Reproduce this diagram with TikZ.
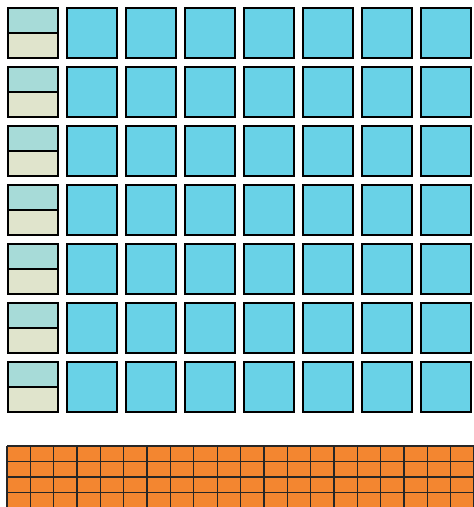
\documentclass[tikz,border=0pt]{standalone}
\usetikzlibrary{positioning}
\definecolor{cellblue}{HTML}{69D2E7}
\definecolor{celltop}{HTML}{A7DBD8}
\definecolor{cellbottom}{HTML}{E0E4CC}
\definecolor{stripfill}{HTML}{F38630}
\begin{document}
\begin{tikzpicture}[
    x=1pt, y=-1pt,
    cell/.style={rectangle, draw=black, line width=2pt, fill=cellblue, minimum width=50.5pt, minimum height=50.5pt, inner sep=0pt, outer sep=0pt},
    halfcell/.style={cell, minimum height=25.25pt},
    stripline/.style={draw=black!85, line width=1.3pt}
]
    \useasboundingbox (0,0) rectangle (474,507);
    \clip (0,0) rectangle (474,507);

    % Main block grid
    \foreach \r in {0,...,6} {
        \node[halfcell, fill=celltop] (top-\r) at (33, 20.375+59*\r) {};
        \node[halfcell, fill=cellbottom, below=0pt of top-\r] (bot-\r) {};
        \foreach \c in {1,...,7} {
            \node[cell] (cell-\r-\c) at (33+59*\c, 33+59*\r) {};
        }
    }

    % Orange strip below
    \fill[stripfill] (7,446) rectangle (480,510);
    \foreach \i in {0,...,20} {
        \draw[stripline] (7+23.35*\i,446) -- (7+23.35*\i,510);
    }
    \foreach \j in {0,...,4} {
        \draw[stripline] (7,446+15.5*\j) -- (480,446+15.5*\j);
    }
\end{tikzpicture}
\end{document}
